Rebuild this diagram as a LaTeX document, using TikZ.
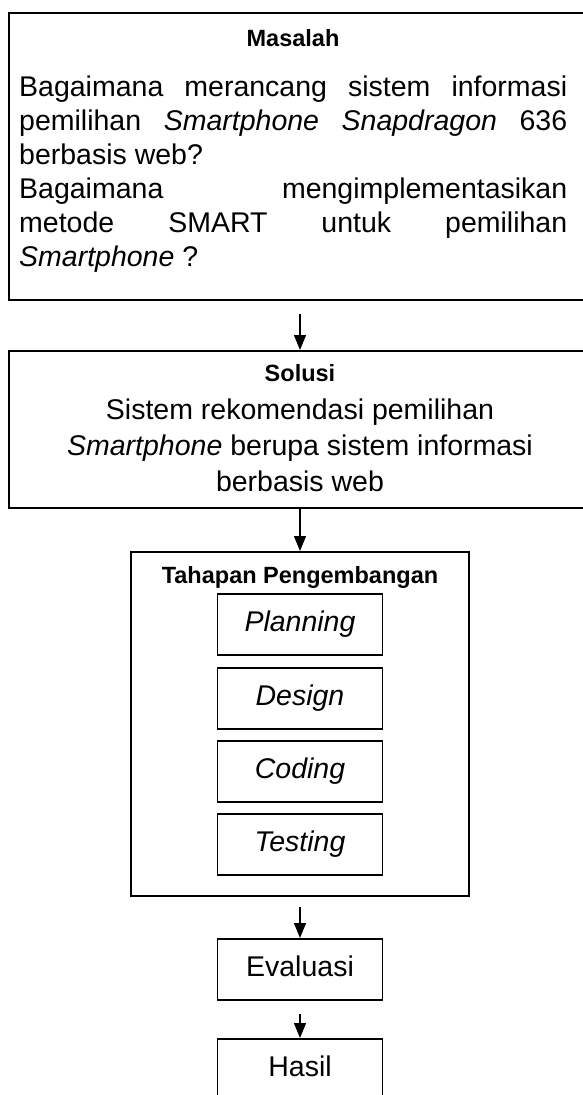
\documentclass[tikz,border=0pt]{standalone}
\usepackage{fontspec}
\setmainfont{Liberation Sans}
\usetikzlibrary{arrows.meta}
\setlength{\parindent}{0pt}

\tikzset{
  kotak/.style={draw=black, line width=1.6pt, inner sep=0pt},
  langkah/.style={kotak, minimum width=165pt, minimum height=61pt,
    font=\fontsize{28.5}{34.5}\selectfont, text height=21pt, text depth=6pt},
  judul/.style={font=\bfseries\fontsize{23.5}{28}\selectfont, inner sep=0pt},
  isi/.style={font=\fontsize{28.5}{34}\selectfont, inner sep=0pt},
  panah/.style={line width=1.4pt, -{Triangle[length=15pt,width=12pt]}}
}

\begin{document}
\begin{tikzpicture}[x=1pt,y=-1pt]
  \pgfmathsetmacro\xmid{300}
  \useasboundingbox (0,0) rectangle (582,1095);

% masalah
  \node[kotak, anchor=north, minimum width=582pt, minimum height=287pt] (masalah) at (\xmid,12) {};
  \node[judul, anchor=base] (masalahjudul) at (293,46) {Masalah};
  \node[isi, anchor=north west, text width=548pt, align=justify] (masalahisi) at (19,76)
    {Bagaimana merancang sistem informasi\linebreak
     pemilihan \textit{Smartphone Snapdragon} 636\linebreak
     berbasis web?\par
     Bagaimana mengimplementasikan\linebreak
     metode SMART untuk pemilihan\linebreak
     \textit{Smartphone} ?};

% solusi
  \node[kotak, anchor=north, minimum width=582pt, minimum height=157pt] (solusi) at (\xmid,350) {};
  \node[judul, anchor=base] (solusijudul) at (\xmid,381) {Solusi};
  \node[isi, anchor=north, align=center, font=\fontsize{28.5}{36}\selectfont] (solusiisi) at (\xmid,399)
    {Sistem rekomendasi pemilihan\\
     \textit{Smartphone} berupa sistem informasi\\
     berbasis web};

% tahapan pengembangan
  \node[kotak, anchor=north, minimum width=338pt, minimum height=344pt] (tahapan) at (\xmid,551) {};
  \node[judul, anchor=base] (tahapanjudul) at (\xmid,583) {Tahapan Pengembangan};
  \node[langkah, anchor=north] (planning) at (\xmid,593) {\textit{Planning}};
  \node[langkah, anchor=north] (design)   at (\xmid,667) {\textit{Design}};
  \node[langkah, anchor=north] (coding)   at (\xmid,740) {\textit{Coding}};
  \node[langkah, anchor=north] (testing)  at (\xmid,813) {\textit{Testing}};

% evaluasi dan hasil
  \node[langkah, anchor=north] (evaluasi) at (\xmid,938) {Evaluasi};
  \node[langkah, anchor=north] (hasil)    at (\xmid,1038) {Hasil};

% panah
  \draw[panah] ([yshift=-13pt]masalah.south) -- (solusi.north);
  \draw[panah] (solusi.south) -- (tahapan.north);
  \draw[panah] ([yshift=-10pt]tahapan.south) -- (evaluasi.north);
  \draw[panah] ([yshift=-13pt]evaluasi.south) -- (hasil.north);

\end{tikzpicture}
\end{document}
